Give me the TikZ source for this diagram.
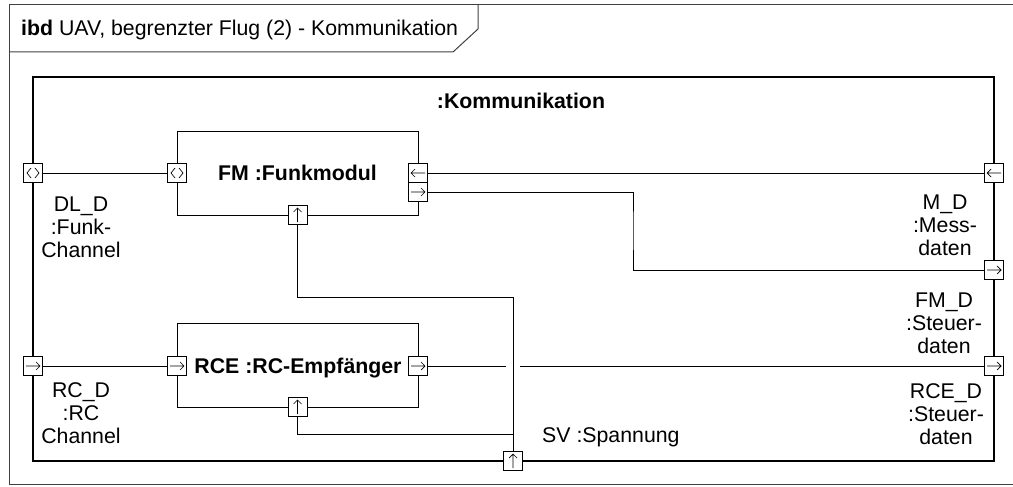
\documentclass[tikz,border=0pt]{standalone}
\usepackage{fontspec}
\setmainfont{Liberation Sans}
\newcommand\arrR[1]{\draw[glyph,shift={(#1.center)}] (-7,0) -- (7,0) (3,-4) -- (7,0) -- (3,4);}
\newcommand\arrL[1]{\draw[glyph,shift={(#1.center)}] (-7,0) -- (7,0) (-3,-4) -- (-7,0) -- (-3,4);}
\newcommand\arrU[1]{\draw[glyph,shift={(#1.center)}] (0,7) -- (0,-7) (-4,-3) -- (0,-7) -- (4,-3);}
\newcommand\arrB[1]{\draw[glyph,shift={(#1.center)}] (-2,-5) -- (-6,0) -- (-2,5) (2,-5) -- (6,0) -- (2,5);}
\begin{document}
\begin{tikzpicture}[x=1pt,y=-1pt,
  every node/.style={font=\fontsize{21.3}{23}\selectfont, inner sep=0pt},
  conn/.style={draw=black, line width=1pt},
  outerframe/.style={draw=black!75, line width=1pt},
  innerframe/.style={draw=black, line width=1.2pt},
  block/.style={draw=black, line width=1pt, fill=white, rectangle, minimum width=241pt, minimum height=84pt},
  port/.style={draw=black, line width=1pt, fill=white, rectangle, minimum size=19pt},
  glyph/.style={draw=black, line width=0.7pt},
  lbl/.style={align=center, anchor=north}
]
\useasboundingbox (0,0) rectangle (1013,487);
% outer frame (right side lies beyond the picture)
\draw[outerframe] (1030,484) -- (9,484) -- (9,5) -- (1030,5);
\draw[outerframe] (9,52) -- (453,52) -- (478,29) -- (478,5);
\node[anchor=base west] (title) at (21,36) {\textbf{ibd} UAV, begrenzter Flug (2) - Kommunikation};
% inner frame
\draw[innerframe] (33,77) rectangle (994,461);
\node[anchor=base] (komm) at (521,108) {\textbf{:Kommunikation}};
% blocks
\node[block] (fm) at (297.5,173) {};
\node[anchor=base] (fmtxt) at (297.5,180.5) {\textbf{FM :Funkmodul}};
\node[block] (rce) at (297.5,365) {};
\node[anchor=base] (rcetxt) at (298,373.5) {\textbf{RCE :RC-Empfänger}};
% ports
\node[port] (pDL) at (33,173) {};
\node[port] (pFMl) at (177,173) {};
\node[port] (pFMr1) at (418,173) {};
\node[port] (pFMr2) at (418,192) {};
\node[port] (pFMb) at (297.5,215) {};
\node[port] (pMD) at (994,173) {};
\node[port] (pFMD) at (994,270) {};
\node[port] (pRC) at (33,366) {};
\node[port] (pRCEl) at (177,366) {};
\node[port] (pRCEr) at (418,366) {};
\node[port] (pRCEb) at (297.5,407) {};
\node[port] (pRCED) at (994,366) {};
\node[port] (pSV) at (513,461) {};
\arrB{pDL} \arrB{pFMl}
\arrL{pFMr1} \arrR{pFMr2} \arrU{pFMb}
\arrL{pMD} \arrR{pFMD}
\arrR{pRC} \arrR{pRCEl} \arrR{pRCEr} \arrU{pRCEb} \arrR{pRCED} \arrU{pSV}
% connectors
\coordinate (jFM) at (633,230);
\coordinate (jSV) at (513,297);
\coordinate (jRC) at (513,434);
\coordinate (hopL) at (506,366);
\coordinate (hopR) at (520,366);
\draw[conn] (pDL.east) -- (pFMl.west);
\draw[conn] (pFMr1.east) -- (pMD.west);
\draw[conn] (pFMr2.east) -| (jFM) |- (pFMD.west);
\draw[conn] (pFMb.south) |- (jSV) -- (pSV.north);
\draw[conn] (pRC.east) -- (pRCEl.west);
\draw[conn] (pRCEr.east) -- (hopL);
\draw[conn] (hopR) -- (pRCED.west);
\draw[conn] (pRCEb.south) |- (jRC);
% labels
\node[lbl] (lDL) at (81,197) {DL\_D\\:Funk-\\Channel};
\node[lbl] (lRC) at (81,382) {RC\_D\\:RC\\Channel};
\node[lbl] (lMD) at (945,195) {M\_D\\:Mess-\\daten};
\node[lbl] (lFMD) at (944,293) {FM\_D\\:Steuer-\\daten};
\node[lbl] (lRCED) at (946,383) {RCE\_D\\:Steuer-\\daten};
\node[anchor=base west] (lSV) at (542,442) {SV :Spannung};
\end{tikzpicture}
\end{document}
